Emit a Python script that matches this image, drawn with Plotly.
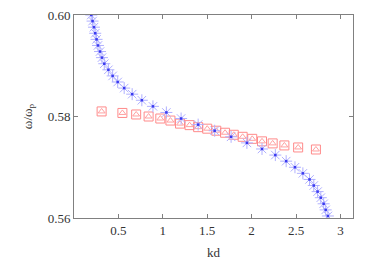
import plotly.graph_objects as go

# Blue branch (kd, omega/omega_p)
blue_kd = [0.194, 0.209, 0.225, 0.239, 0.254, 0.270, 0.293, 0.315, 0.341, 0.387,
           0.435, 0.492, 0.565, 0.655, 0.764, 0.889, 1.040, 1.206, 1.398, 1.584,
           1.769, 1.947, 2.117, 2.267, 2.389, 2.488, 2.577, 2.652, 2.700, 2.743,
           2.779, 2.811, 2.834, 2.859]
blue_w = [0.6000, 0.5988, 0.5976, 0.5964, 0.5952, 0.5940, 0.5928, 0.5916, 0.5904, 0.5892,
          0.5880, 0.5868, 0.5856, 0.5844, 0.5832, 0.5820, 0.5808, 0.5796, 0.5784, 0.5772,
          0.5760, 0.5748, 0.5736, 0.5724, 0.5712, 0.5700, 0.5688, 0.5676, 0.5664, 0.5652,
          0.5640, 0.5628, 0.5616, 0.5604]

# Red branch
red_kd = [0.311, 0.545, 0.700, 0.840, 0.972, 1.086, 1.194, 1.301, 1.398, 1.500,
          1.602, 1.701, 1.799, 1.899, 2.007, 2.117, 2.237, 2.369, 2.524, 2.724]
red_w = [0.5810, 0.5807, 0.5804, 0.5800, 0.5796, 0.5792, 0.5786, 0.5783, 0.5779, 0.5776,
         0.5772, 0.5768, 0.5764, 0.5760, 0.5756, 0.5751, 0.5747, 0.5743, 0.5739, 0.5735]

x_ticks = [0.5, 1, 1.5, 2, 2.5, 3]
x_labels = ["0.5", "1", "1.5", "2", "2.5", "3"]
y_ticks = [0.56, 0.58, 0.60]
y_labels = ["0.56", "0.58", "0.60"]

FONT = "Liberation Serif, Times New Roman, serif"
TXT = "#333333"

fig = go.Figure()
fig.add_trace(go.Scatter(x=red_kd, y=red_w, mode="markers",
                         marker=dict(symbol="square-open", size=9, color="#ff8a8a",
                                     line=dict(width=1, color="#ff8a8a"))))
fig.add_trace(go.Scatter(x=red_kd, y=red_w, mode="markers",
                         marker=dict(symbol="triangle-up-open", size=6, color="#ffa0a0",
                                     line=dict(width=1, color="#ffa0a0"))))
fig.add_trace(go.Scatter(x=blue_kd, y=blue_w, mode="markers",
                         marker=dict(symbol="asterisk-open", size=10, color="#b0b0ff",
                                     line=dict(width=1, color="#b0b0ff"))))
fig.add_trace(go.Scatter(x=blue_kd, y=blue_w, mode="markers",
                         marker=dict(symbol="square", size=2.5, color="#3a3af0")))

axis_common = dict(showline=True, linecolor="#808080", linewidth=1, mirror="ticks",
                   ticks="inside", ticklen=4, tickcolor="#808080", showgrid=False,
                   zeroline=False, automargin=False,
                   tickfont=dict(family=FONT, size=13, color=TXT))
fig.update_xaxes(range=[0, 3.14159], tickvals=x_ticks, ticktext=x_labels,
                 title=dict(text="kd", font=dict(family=FONT, size=13, color=TXT),
                            standoff=11), **axis_common)
fig.update_yaxes(range=[0.56, 0.60], tickvals=y_ticks, ticktext=y_labels,
                 title=dict(text="ω/ω<sub>p</sub>", font=dict(family=FONT, size=13, color=TXT),
                            standoff=12), **axis_common)
fig.update_layout(width=374, height=262, margin=dict(l=74, r=21, t=15, b=44),
                  plot_bgcolor="white", paper_bgcolor="white", showlegend=False,
                  hovermode=False)
# remove the browser's default 8px body margin so the figure sits at the page origin
fig.write_html("out.html", config={"displayModeBar": False, "staticPlot": True},
               post_script="document.body.style.margin='0';document.body.style.overflow='hidden';")
